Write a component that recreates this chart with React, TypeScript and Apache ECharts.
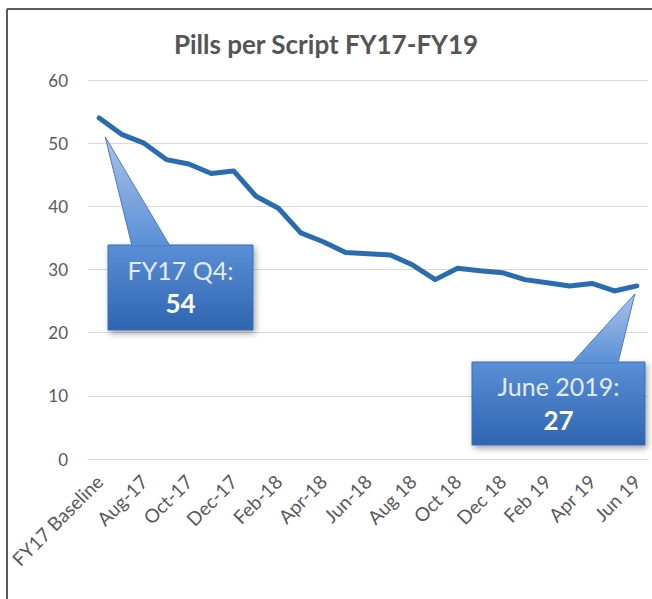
import React, { useEffect, useRef } from "react";
import * as echarts from "echarts";

const categories = [
  "FY17 Baseline", "Jul-17", "Aug-17", "Sep-17", "Oct-17", "Nov-17", "Dec-17",
  "Jan-18", "Feb-18", "Mar-18", "Apr-18", "May-18", "Jun-18", "Jul 18",
  "Aug 18", "Sep 18", "Oct 18", "Nov 18", "Dec 18", "Jan 19", "Feb 19",
  "Mar 19", "Apr 19", "May 19", "Jun 19",
];
const pillsPerScript = [
  54.0, 51.4, 50.0, 47.4, 46.7, 45.2, 45.6, 41.6, 39.7, 35.8, 34.4, 32.7, 32.5,
  32.3, 30.7, 28.4, 30.2, 29.8, 29.5, 28.4, 27.9, 27.4, 27.8, 26.6, 27.4,
];
const titleText = "Pills per Script FY17-FY19";
const callout1Lines = ["FY17 Q4:", "54"];
const callout2Lines = ["June 2019:", "27"];

const FONT = "Lato, 'Open Sans', sans-serif";

function boxFill() {
  return new echarts.graphic.LinearGradient(0, 0, 0, 1, [
    { offset: 0, color: "#5a8fd6" },
    { offset: 1, color: "#2f65b0" },
  ]);
}
function pointerFill() {
  return new echarts.graphic.LinearGradient(0, 0, 0, 1, [
    { offset: 0, color: "#a9c3ea" },
    { offset: 1, color: "#5a8fd6" },
  ]);
}

function callout(
  tip: number[],
  box: { x: number; y: number; w: number; h: number },
  baseL: number,
  baseR: number,
  lines: string[],
  r2: number
) {
  const cx = box.x + box.w / 2;
  return [
    {
      type: "rect",
      shape: { x: box.x, y: box.y, width: box.w, height: box.h },
      style: {
        fill: boxFill(),
        stroke: "#3a6db5",
        lineWidth: 1,
        shadowBlur: 6,
        shadowColor: "rgba(0,0,0,0.35)",
        shadowOffsetX: 2,
        shadowOffsetY: 3,
      },
      z: 100,
    },
    {
      type: "polygon",
      shape: {
        points: [
          [tip[0], tip[1]],
          [baseL, box.y + 1],
          [baseR, box.y + 1],
        ],
      },
      style: { fill: pointerFill(), stroke: "#4a7cc2", lineWidth: 1 },
      z: 101,
    },
    {
      type: "text",
      x: cx,
      y: box.y + box.h * 0.29,
      style: {
        text: lines[0],
        fill: "#e3ebf7",
        font: `25px ${FONT}`,
        align: "center",
        verticalAlign: "middle",
      },
      z: 102,
    },
    {
      type: "text",
      x: cx,
      y: box.y + box.h * r2,
      style: {
        text: lines[1],
        fill: "#ffffff",
        font: `bold 26px ${FONT}`,
        align: "center",
        verticalAlign: "middle",
      },
      z: 102,
    },
  ];
}

export default function App() {
  const ref = useRef<HTMLDivElement>(null);
  useEffect(() => {
    if (!ref.current) return;
    const chart = echarts.init(ref.current, null, { renderer: "svg" });
    chart.setOption({
      animation: false,
      backgroundColor: "#ffffff",
      title: {
        text: titleText,
        left: "center",
        top: 26,
        textStyle: {
          fontFamily: FONT,
          fontSize: 26,
          fontWeight: "bold",
          color: "#555555",
        },
      },
      grid: { left: 88, right: 4, top: 80, bottom: 140 },
      xAxis: {
        type: "category",
        data: categories,
        boundaryGap: true,
        axisLine: { show: true, lineStyle: { color: "#d9d9d9", width: 1 } },
        axisTick: { show: false },
        axisLabel: {
          interval: 1,
          rotate: 45,
          margin: 19,
          color: "#595959",
          fontFamily: FONT,
          fontSize: 19,
        },
      },
      yAxis: {
        type: "value",
        min: 0,
        max: 60,
        interval: 10,
        axisLine: { show: false },
        axisTick: { show: false },
        axisLabel: {
          margin: 20,
          color: "#595959",
          fontFamily: FONT,
          fontSize: 17,
        },
        splitLine: { lineStyle: { color: "#d9d9d9", width: 1 } },
      },
      series: [
        {
          type: "line",
          data: pillsPerScript,
          symbol: "none",
          lineStyle: { color: "#2a6cb0", width: 5, cap: "round", join: "round" },
        },
      ],
    });

    const p0 = chart.convertToPixel({ seriesIndex: 0 }, [0, pillsPerScript[0]]) as number[];
    const last = pillsPerScript.length - 1;
    const pN = chart.convertToPixel({ seriesIndex: 0 }, [last, pillsPerScript[last]]) as number[];
    const tip1 = [p0[0] + 6, p0[1] + 19];
    const tip2 = [pN[0] - 2, pN[1] + 8];

    chart.setOption({
      graphic: [
        {
          type: "line",
          shape: { x1: 7, y1: 9, x2: 652, y2: 9 },
          style: { stroke: "#5a5a5a", lineWidth: 2 },
        },
        {
          type: "line",
          shape: { x1: 7, y1: 9, x2: 7, y2: 599 },
          style: { stroke: "#5a5a5a", lineWidth: 2 },
        },
        ...callout(tip1, { x: 108, y: 245, w: 145, h: 85 }, 132, 170, callout1Lines, 0.68),
        ...callout(tip2, { x: 472, y: 362, w: 173, h: 83 }, 572, 618, callout2Lines, 0.7),
      ],
    });

    return () => chart.dispose();
  }, []);
  return (
    <div
      ref={ref}
      style={{ position: "fixed", left: 0, top: 0, width: 652, height: 599 }}
    />
  );
}
